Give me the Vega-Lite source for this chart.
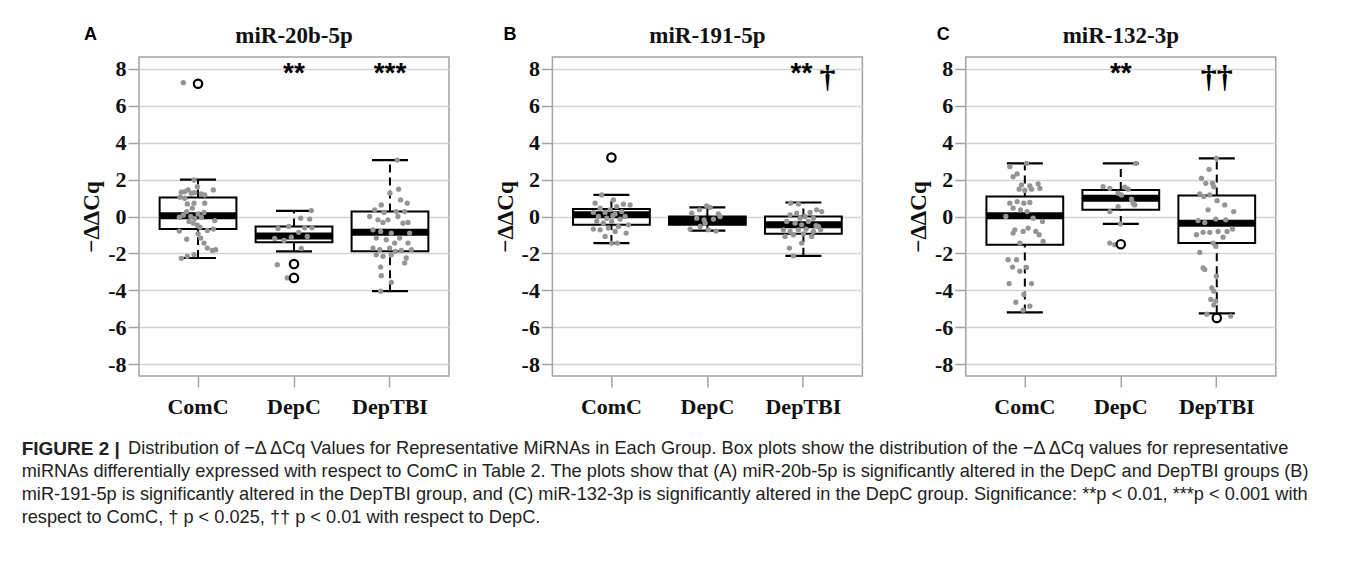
{
  "$schema": "https://vega.github.io/schema/vega-lite/v6.json",
  "padding": {"left": 21, "top": 24, "right": 5, "bottom": 5},
  "background": "white",
  "bounds": "flush",
  "columns": 3,
  "spacing": {"row": 50, "column": 103.4},
  "datasets": {
    "box": [
      {"p": "A", "g": "ComC", "q1": -0.68, "q3": 1.03, "med": 0.04, "lo": -2.25, "hi": 2.0},
      {"p": "A", "g": "DepC", "q1": -1.39, "q3": -0.54, "med": -1.06, "lo": -1.89, "hi": 0.31},
      {"p": "A", "g": "DepTBI", "q1": -1.89, "q3": 0.27, "med": -0.86, "lo": -4.05, "hi": 3.06},
      {"p": "B", "g": "ComC", "q1": -0.45, "q3": 0.4, "med": 0.09, "lo": -1.44, "hi": 1.17},
      {"p": "B", "g": "DepC", "q1": -0.45, "q3": 0.0, "med": -0.22, "lo": -0.77, "hi": 0.5},
      {"p": "B", "g": "DepTBI", "q1": -0.94, "q3": 0.0, "med": -0.45, "lo": -2.13, "hi": 0.76},
      {"p": "C", "g": "ComC", "q1": -1.53, "q3": 1.08, "med": 0.04, "lo": -5.2, "hi": 2.88},
      {"p": "C", "g": "DepC", "q1": 0.36, "q3": 1.44, "med": 0.99, "lo": -0.4, "hi": 2.88},
      {"p": "C", "g": "DepTBI", "q1": -1.44, "q3": 1.14, "med": -0.37, "lo": -5.25, "hi": 3.15}
    ],
    "out": [
      {"p": "A", "g": "ComC", "v": 7.2},
      {"p": "A", "g": "DepC", "v": -2.58},
      {"p": "A", "g": "DepC", "v": -3.33},
      {"p": "B", "g": "ComC", "v": 3.2},
      {"p": "C", "g": "DepC", "v": -1.5},
      {"p": "C", "g": "DepTBI", "v": -5.5}
    ],
    "sig": [
      {"p": "A", "g": "DepC", "t": "**"},
      {"p": "A", "g": "DepTBI", "t": "***"},
      {"p": "B", "g": "DepTBI", "t": "**"},
      {"p": "C", "g": "DepC", "t": "**"}
    ],
    "dag": [
      {"p": "B", "g": "DepTBI", "t": "†"},
      {"p": "C", "g": "DepTBI", "t": "††"}
    ],
    "names": [
      {"p": "A", "name": "miR-20b-5p", "letter": "A"},
      {"p": "B", "name": "miR-191-5p", "letter": "B"},
      {"p": "C", "name": "miR-132-3p", "letter": "C"}
    ],
    "cap": [
      {"line": 1, "seg": "b", "t": "FIGURE 2 |"},
      {"line": 1, "seg": "r1", "t": "Distribution of −Δ ΔCq Values for Representative MiRNAs in Each Group. Box plots show the distribution of the −Δ ΔCq values for representative"},
      {"line": 2, "seg": "r", "t": "miRNAs differentially expressed with respect to ComC in Table 2. The plots show that (A) miR-20b-5p is significantly altered in the DepC and DepTBI groups (B)"},
      {"line": 3, "seg": "r", "t": "miR-191-5p is significantly altered in the DepTBI group, and (C) miR-132-3p is significantly altered in the DepC group. Significance: **p < 0.01, ***p < 0.001 with"},
      {"line": 4, "seg": "r", "t": "respect to ComC, † p < 0.025, †† p < 0.01 with respect to DepC."}
    ],
    "pts": [
      {"p":"A","g":"ComC","dx":-14.7,"v":7.26},{"p":"A","g":"ComC","dx":-4,"v":1.98},{"p":"A","g":"ComC","dx":-0.7,"v":1.62},{"p":"A","g":"ComC","dx":-16.7,"v":1.32},{"p":"A","g":"ComC","dx":-13.3,"v":1.35},{"p":"A","g":"ComC","dx":-10,"v":1.44},{"p":"A","g":"ComC","dx":-6.7,"v":1.26},{"p":"A","g":"ComC","dx":-3.3,"v":1.3},{"p":"A","g":"ComC","dx":3.3,"v":1.23},{"p":"A","g":"ComC","dx":6.7,"v":1.17},{"p":"A","g":"ComC","dx":15.3,"v":1.44},{"p":"A","g":"ComC","dx":-18,"v":1.05},{"p":"A","g":"ComC","dx":-13.3,"v":0.99},{"p":"A","g":"ComC","dx":-4,"v":0.72},{"p":"A","g":"ComC","dx":-10.7,"v":0.68},{"p":"A","g":"ComC","dx":6.7,"v":0.72},{"p":"A","g":"ComC","dx":-5.7,"v":0.45},{"p":"A","g":"ComC","dx":-11.3,"v":0.27},{"p":"A","g":"ComC","dx":-18.7,"v":-0.04},{"p":"A","g":"ComC","dx":-14.7,"v":0.07},{"p":"A","g":"ComC","dx":-7.3,"v":0.0},{"p":"A","g":"ComC","dx":-3.3,"v":-0.11},{"p":"A","g":"ComC","dx":0,"v":0.14},{"p":"A","g":"ComC","dx":3.3,"v":-0.04},{"p":"A","g":"ComC","dx":6,"v":0.22},{"p":"A","g":"ComC","dx":16.7,"v":-0.22},{"p":"A","g":"ComC","dx":-9,"v":-0.27},{"p":"A","g":"ComC","dx":-4.7,"v":-0.36},{"p":"A","g":"ComC","dx":-0.7,"v":-0.47},{"p":"A","g":"ComC","dx":2,"v":-0.58},{"p":"A","g":"ComC","dx":15.3,"v":-0.68},{"p":"A","g":"ComC","dx":-18.7,"v":-0.79},{"p":"A","g":"ComC","dx":9.3,"v":-0.76},{"p":"A","g":"ComC","dx":0,"v":-0.94},{"p":"A","g":"ComC","dx":-11.3,"v":-1.23},{"p":"A","g":"ComC","dx":2.7,"v":-1.17},{"p":"A","g":"ComC","dx":6,"v":-1.44},{"p":"A","g":"ComC","dx":9.3,"v":-1.71},{"p":"A","g":"ComC","dx":14.3,"v":-1.84},{"p":"A","g":"ComC","dx":17.7,"v":-1.8},{"p":"A","g":"ComC","dx":-4,"v":-2.07},{"p":"A","g":"ComC","dx":-10.7,"v":-2.16},{"p":"A","g":"ComC","dx":-16.7,"v":-2.27},
      {"p":"A","g":"DepC","dx":17.3,"v":0.32},{"p":"A","g":"DepC","dx":6.7,"v":-0.09},{"p":"A","g":"DepC","dx":15.7,"v":-0.14},{"p":"A","g":"DepC","dx":-16,"v":-0.65},{"p":"A","g":"DepC","dx":-5.3,"v":-0.54},{"p":"A","g":"DepC","dx":10.7,"v":-0.61},{"p":"A","g":"DepC","dx":18,"v":-0.61},{"p":"A","g":"DepC","dx":-19.3,"v":-1.19},{"p":"A","g":"DepC","dx":-10,"v":-1.3},{"p":"A","g":"DepC","dx":-2.7,"v":-1.12},{"p":"A","g":"DepC","dx":4.7,"v":-0.86},{"p":"A","g":"DepC","dx":13.3,"v":-1.08},{"p":"A","g":"DepC","dx":7.3,"v":-1.73},{"p":"A","g":"DepC","dx":-16.7,"v":-2.61},{"p":"A","g":"DepC","dx":-6.7,"v":-3.33},
      {"p":"A","g":"DepTBI","dx":7.3,"v":3.06},{"p":"A","g":"DepTBI","dx":8.7,"v":1.48},{"p":"A","g":"DepTBI","dx":0,"v":1.26},{"p":"A","g":"DepTBI","dx":10.7,"v":0.9},{"p":"A","g":"DepTBI","dx":-8.7,"v":0.63},{"p":"A","g":"DepTBI","dx":-15.3,"v":0.36},{"p":"A","g":"DepTBI","dx":-6,"v":0.22},{"p":"A","g":"DepTBI","dx":6.3,"v":0.27},{"p":"A","g":"DepTBI","dx":14.7,"v":0.27},{"p":"A","g":"DepTBI","dx":-12,"v":-0.18},{"p":"A","g":"DepTBI","dx":-7,"v":-0.32},{"p":"A","g":"DepTBI","dx":-2,"v":-0.18},{"p":"A","g":"DepTBI","dx":8,"v":0},{"p":"A","g":"DepTBI","dx":13,"v":-0.36},{"p":"A","g":"DepTBI","dx":18,"v":-0.32},{"p":"A","g":"DepTBI","dx":-17,"v":-0.72},{"p":"A","g":"DepTBI","dx":-9.3,"v":-0.81},{"p":"A","g":"DepTBI","dx":1.3,"v":-0.9},{"p":"A","g":"DepTBI","dx":9.7,"v":-1.17},{"p":"A","g":"DepTBI","dx":-13.7,"v":-1.17},{"p":"A","g":"DepTBI","dx":-3.7,"v":-1.26},{"p":"A","g":"DepTBI","dx":4.7,"v":-1.44},{"p":"A","g":"DepTBI","dx":-17,"v":-1.71},{"p":"A","g":"DepTBI","dx":-10.3,"v":-1.8},{"p":"A","g":"DepTBI","dx":-0.3,"v":-1.71},{"p":"A","g":"DepTBI","dx":5.3,"v":-1.89},{"p":"A","g":"DepTBI","dx":11.3,"v":-1.84},{"p":"A","g":"DepTBI","dx":16.3,"v":-2.25},{"p":"A","g":"DepTBI","dx":-13.7,"v":-2.07},{"p":"A","g":"DepTBI","dx":-7,"v":-2.16},{"p":"A","g":"DepTBI","dx":1.3,"v":-2.07},{"p":"A","g":"DepTBI","dx":-9.3,"v":-2.74},{"p":"A","g":"DepTBI","dx":-8.7,"v":-3.21},{"p":"A","g":"DepTBI","dx":1.3,"v":-3.57},{"p":"A","g":"DepTBI","dx":-9.3,"v":-4.05},{"p":"A","g":"DepTBI","dx":17.3,"v":0.72},{"p":"A","g":"DepTBI","dx":-20.3,"v":0},{"p":"A","g":"DepTBI","dx":19.7,"v":-0.9},{"p":"A","g":"DepTBI","dx":18,"v":-1.44},{"p":"A","g":"DepTBI","dx":14.7,"v":-2.52},{"p":"A","g":"DepTBI","dx":21.3,"v":-1.8},
      {"p":"B","g":"ComC","dx":-9.7,"v":1.17},{"p":"B","g":"ComC","dx":2,"v":0.9},{"p":"B","g":"ComC","dx":-16.3,"v":0.72},{"p":"B","g":"ComC","dx":12,"v":0.67},{"p":"B","g":"ComC","dx":18.7,"v":0.63},{"p":"B","g":"ComC","dx":-11.3,"v":0.45},{"p":"B","g":"ComC","dx":-1.3,"v":0.36},{"p":"B","g":"ComC","dx":5.3,"v":0.54},{"p":"B","g":"ComC","dx":-18,"v":0.22},{"p":"B","g":"ComC","dx":-6.3,"v":0.22},{"p":"B","g":"ComC","dx":3.7,"v":0.14},{"p":"B","g":"ComC","dx":10.3,"v":0.27},{"p":"B","g":"ComC","dx":-13,"v":0},{"p":"B","g":"ComC","dx":-4.7,"v":-0.09},{"p":"B","g":"ComC","dx":1.3,"v":0.04},{"p":"B","g":"ComC","dx":8.7,"v":-0.14},{"p":"B","g":"ComC","dx":13.7,"v":0},{"p":"B","g":"ComC","dx":-14.7,"v":-0.27},{"p":"B","g":"ComC","dx":-8,"v":-0.36},{"p":"B","g":"ComC","dx":0.3,"v":-0.27},{"p":"B","g":"ComC","dx":7,"v":-0.54},{"p":"B","g":"ComC","dx":17,"v":-0.45},{"p":"B","g":"ComC","dx":-18,"v":-0.68},{"p":"B","g":"ComC","dx":-11.3,"v":-0.72},{"p":"B","g":"ComC","dx":-3,"v":-0.63},{"p":"B","g":"ComC","dx":3.7,"v":-0.81},{"p":"B","g":"ComC","dx":14.7,"v":-0.9},{"p":"B","g":"ComC","dx":0.3,"v":-1.44},{"p":"B","g":"ComC","dx":6,"v":-1.44},{"p":"B","g":"ComC","dx":-6.3,"v":-1.08},
      {"p":"B","g":"DepC","dx":-15.7,"v":0.18},{"p":"B","g":"DepC","dx":-8,"v":0.36},{"p":"B","g":"DepC","dx":-0.7,"v":0.58},{"p":"B","g":"DepC","dx":2.7,"v":0.5},{"p":"B","g":"DepC","dx":11,"v":0.14},{"p":"B","g":"DepC","dx":-10.7,"v":-0.09},{"p":"B","g":"DepC","dx":-3.3,"v":-0.18},{"p":"B","g":"DepC","dx":6,"v":-0.14},{"p":"B","g":"DepC","dx":12.7,"v":0},{"p":"B","g":"DepC","dx":-7.3,"v":-0.54},{"p":"B","g":"DepC","dx":-17.3,"v":-0.68},{"p":"B","g":"DepC","dx":1,"v":-0.72},{"p":"B","g":"DepC","dx":8.7,"v":-0.79},{"p":"B","g":"DepC","dx":-2.3,"v":-0.36},
      {"p":"B","g":"DepTBI","dx":-12.7,"v":0.72},{"p":"B","g":"DepTBI","dx":-5,"v":0.68},{"p":"B","g":"DepTBI","dx":6.7,"v":0.22},{"p":"B","g":"DepTBI","dx":13.3,"v":0.36},{"p":"B","g":"DepTBI","dx":18.3,"v":0.27},{"p":"B","g":"DepTBI","dx":-13.3,"v":0.09},{"p":"B","g":"DepTBI","dx":-6.7,"v":0.18},{"p":"B","g":"DepTBI","dx":1.7,"v":0},{"p":"B","g":"DepTBI","dx":10,"v":-0.09},{"p":"B","g":"DepTBI","dx":-16.7,"v":-0.27},{"p":"B","g":"DepTBI","dx":-8.3,"v":-0.36},{"p":"B","g":"DepTBI","dx":-1.7,"v":-0.45},{"p":"B","g":"DepTBI","dx":5,"v":-0.27},{"p":"B","g":"DepTBI","dx":15,"v":-0.54},{"p":"B","g":"DepTBI","dx":-20,"v":-0.72},{"p":"B","g":"DepTBI","dx":-13.3,"v":-0.81},{"p":"B","g":"DepTBI","dx":-5,"v":-0.72},{"p":"B","g":"DepTBI","dx":2.7,"v":-0.68},{"p":"B","g":"DepTBI","dx":10,"v":-0.81},{"p":"B","g":"DepTBI","dx":17.3,"v":-0.72},{"p":"B","g":"DepTBI","dx":-18.3,"v":-1.08},{"p":"B","g":"DepTBI","dx":-10,"v":-0.99},{"p":"B","g":"DepTBI","dx":0,"v":-0.94},{"p":"B","g":"DepTBI","dx":8.3,"v":-1.08},{"p":"B","g":"DepTBI","dx":-1.7,"v":-1.44},{"p":"B","g":"DepTBI","dx":-14,"v":-1.71},{"p":"B","g":"DepTBI","dx":-10,"v":-2.13},{"p":"B","g":"DepTBI","dx":12.7,"v":-0.5},{"p":"B","g":"DepTBI","dx":-3.3,"v":-0.09},
      {"p":"C","g":"ComC","dx":1.7,"v":2.88},{"p":"C","g":"ComC","dx":-15,"v":2.7},{"p":"C","g":"ComC","dx":-7.7,"v":2.31},{"p":"C","g":"ComC","dx":-11.7,"v":2.16},{"p":"C","g":"ComC","dx":-3.3,"v":1.71},{"p":"C","g":"ComC","dx":5,"v":1.66},{"p":"C","g":"ComC","dx":13.3,"v":1.77},{"p":"C","g":"ComC","dx":-5.7,"v":1.48},{"p":"C","g":"ComC","dx":0,"v":1.41},{"p":"C","g":"ComC","dx":6.7,"v":1.48},{"p":"C","g":"ComC","dx":15,"v":1.53},{"p":"C","g":"ComC","dx":-15,"v":0.72},{"p":"C","g":"ComC","dx":-7.7,"v":0.81},{"p":"C","g":"ComC","dx":-1,"v":0.72},{"p":"C","g":"ComC","dx":5,"v":0.76},{"p":"C","g":"ComC","dx":-11.7,"v":0.45},{"p":"C","g":"ComC","dx":-4.3,"v":0.36},{"p":"C","g":"ComC","dx":2.3,"v":0.27},{"p":"C","g":"ComC","dx":-19,"v":0},{"p":"C","g":"ComC","dx":8.3,"v":-0.09},{"p":"C","g":"ComC","dx":17.7,"v":-0.27},{"p":"C","g":"ComC","dx":-10,"v":-0.72},{"p":"C","g":"ComC","dx":-1.7,"v":-0.81},{"p":"C","g":"ComC","dx":3.3,"v":-0.63},{"p":"C","g":"ComC","dx":11,"v":-0.81},{"p":"C","g":"ComC","dx":-11.7,"v":-0.9},{"p":"C","g":"ComC","dx":14.3,"v":-0.99},{"p":"C","g":"ComC","dx":18.3,"v":-1.35},{"p":"C","g":"ComC","dx":-5,"v":-1.44},{"p":"C","g":"ComC","dx":-8.3,"v":-2.34},{"p":"C","g":"ComC","dx":-16.7,"v":-2.34},{"p":"C","g":"ComC","dx":-12.3,"v":-2.74},{"p":"C","g":"ComC","dx":-5,"v":-2.97},{"p":"C","g":"ComC","dx":1.7,"v":-2.76},{"p":"C","g":"ComC","dx":-15.7,"v":-3.64},{"p":"C","g":"ComC","dx":6.7,"v":-3.64},{"p":"C","g":"ComC","dx":-1,"v":-4.23},{"p":"C","g":"ComC","dx":-9,"v":-4.65},{"p":"C","g":"ComC","dx":-1.7,"v":-5.08},{"p":"C","g":"ComC","dx":5,"v":-4.86},
      {"p":"C","g":"DepC","dx":15,"v":2.88},{"p":"C","g":"DepC","dx":-17.7,"v":1.62},{"p":"C","g":"DepC","dx":-11,"v":1.53},{"p":"C","g":"DepC","dx":4,"v":1.59},{"p":"C","g":"DepC","dx":7.3,"v":1.48},{"p":"C","g":"DepC","dx":-2.7,"v":1.26},{"p":"C","g":"DepC","dx":0.7,"v":1.17},{"p":"C","g":"DepC","dx":10.7,"v":0.94},{"p":"C","g":"DepC","dx":14,"v":0.63},{"p":"C","g":"DepC","dx":12.3,"v":0.72},{"p":"C","g":"DepC","dx":-11,"v":0.27},{"p":"C","g":"DepC","dx":-2.7,"v":0.54},{"p":"C","g":"DepC","dx":-0.3,"v":-0.4},{"p":"C","g":"DepC","dx":-11,"v":-1.44},{"p":"C","g":"DepC","dx":-6,"v":-1.53},
      {"p":"C","g":"DepTBI","dx":-0.3,"v":3.15},{"p":"C","g":"DepTBI","dx":-7.7,"v":2.56},{"p":"C","g":"DepTBI","dx":-15.3,"v":2.07},{"p":"C","g":"DepTBI","dx":-11,"v":1.8},{"p":"C","g":"DepTBI","dx":-4.3,"v":1.8},{"p":"C","g":"DepTBI","dx":-3,"v":1.62},{"p":"C","g":"DepTBI","dx":-17,"v":1.23},{"p":"C","g":"DepTBI","dx":-13,"v":1.08},{"p":"C","g":"DepTBI","dx":-7,"v":1.17},{"p":"C","g":"DepTBI","dx":0.3,"v":0.86},{"p":"C","g":"DepTBI","dx":8,"v":0.63},{"p":"C","g":"DepTBI","dx":-8.7,"v":0.36},{"p":"C","g":"DepTBI","dx":17,"v":0.27},{"p":"C","g":"DepTBI","dx":-18.7,"v":-0.22},{"p":"C","g":"DepTBI","dx":-12,"v":-0.32},{"p":"C","g":"DepTBI","dx":-1,"v":-0.14},{"p":"C","g":"DepTBI","dx":9,"v":-0.18},{"p":"C","g":"DepTBI","dx":15.7,"v":-0.68},{"p":"C","g":"DepTBI","dx":-13.7,"v":-0.86},{"p":"C","g":"DepTBI","dx":-7,"v":-0.86},{"p":"C","g":"DepTBI","dx":1.3,"v":-0.81},{"p":"C","g":"DepTBI","dx":10.3,"v":-0.81},{"p":"C","g":"DepTBI","dx":-20.3,"v":-0.99},{"p":"C","g":"DepTBI","dx":6.3,"v":-1.12},{"p":"C","g":"DepTBI","dx":-3.7,"v":-1.44},{"p":"C","g":"DepTBI","dx":-1,"v":-1.62},{"p":"C","g":"DepTBI","dx":-17,"v":-1.95},{"p":"C","g":"DepTBI","dx":-13.7,"v":-2.79},{"p":"C","g":"DepTBI","dx":-12,"v":-2.88},{"p":"C","g":"DepTBI","dx":-0.3,"v":-3.24},{"p":"C","g":"DepTBI","dx":-5,"v":-3.87},{"p":"C","g":"DepTBI","dx":-3,"v":-4.05},{"p":"C","g":"DepTBI","dx":-1,"v":-4.59},{"p":"C","g":"DepTBI","dx":-3,"v":-4.8},{"p":"C","g":"DepTBI","dx":-10,"v":-5.3},{"p":"C","g":"DepTBI","dx":14,"v":-5.4},{"p":"C","g":"DepTBI","dx":-6,"v":-4.5}
    ]
  },
  "concat": [
    {
      "width": 310, "height": 319,
      "resolve": {"scale": {"xOffset": "independent"}},
      "layer": [
        {"data": {"name": "box"}, "transform": [{"filter": {"field": "p", "equal": "A"}}], "mark": {"type": "bar", "width": {"band": 0.8}, "fill": "white", "stroke": "black", "strokeWidth": 2}, "encoding": {"x": {"field": "g", "type": "nominal", "scale": {"domain": ["ComC", "DepC", "DepTBI"], "paddingInner": 0, "paddingOuter": 0.115}, "axis": {"orient": "bottom", "title": null, "labelAngle": 0}}, "y": {"field": "q1", "type": "quantitative", "scale": {"domain": [-8.65, 8.65], "nice": false, "zero": false}, "axis": {"orient": "left", "values": [-8, -6, -4, -2, 0, 2, 4, 6, 8], "tickCount": 9, "labelOverlap": false, "labelExpr": "replace(datum.label, '−', '-')", "title": "−ΔΔCq", "grid": true}}, "y2": {"field": "q3"}}},
        {"data": {"name": "box"}, "transform": [{"filter": {"field": "p", "equal": "A"}}], "mark": {"type": "rule", "strokeWidth": 2, "strokeDash": [8, 5], "color": "black"}, "encoding": {"x": {"field": "g", "type": "nominal"}, "y": {"field": "q3", "type": "quantitative"}, "y2": {"field": "hi"}}},
        {"data": {"name": "box"}, "transform": [{"filter": {"field": "p", "equal": "A"}}], "mark": {"type": "rule", "strokeWidth": 2, "strokeDash": [8, 5], "color": "black"}, "encoding": {"x": {"field": "g", "type": "nominal"}, "y": {"field": "lo", "type": "quantitative"}, "y2": {"field": "q1"}}},
        {"data": {"name": "box"}, "transform": [{"filter": {"field": "p", "equal": "A"}}], "mark": {"type": "tick", "size": 36, "thickness": 2.2, "color": "black", "opacity": 1}, "encoding": {"x": {"field": "g", "type": "nominal"}, "y": {"field": "hi", "type": "quantitative"}}},
        {"data": {"name": "box"}, "transform": [{"filter": {"field": "p", "equal": "A"}}], "mark": {"type": "tick", "size": 36, "thickness": 2.2, "color": "black", "opacity": 1}, "encoding": {"x": {"field": "g", "type": "nominal"}, "y": {"field": "lo", "type": "quantitative"}}},
        {"data": {"name": "box"}, "transform": [{"filter": {"field": "p", "equal": "A"}}], "mark": {"type": "tick", "size": 77, "thickness": 7, "color": "black", "opacity": 1}, "encoding": {"x": {"field": "g", "type": "nominal"}, "y": {"field": "med", "type": "quantitative"}}},
        {"data": {"name": "pts"}, "transform": [{"filter": {"field": "p", "equal": "A"}}], "mark": {"type": "circle", "size": 28, "color": "#959595", "opacity": 1}, "encoding": {"x": {"field": "g", "type": "nominal"}, "xOffset": {"field": "dx", "type": "quantitative", "scale": {"domain": [-48, 48]}}, "y": {"field": "v", "type": "quantitative"}}},
        {"data": {"name": "out"}, "transform": [{"filter": {"field": "p", "equal": "A"}}], "mark": {"type": "point", "shape": "circle", "filled": false, "size": 70, "stroke": "black", "strokeWidth": 2.2, "opacity": 1}, "encoding": {"x": {"field": "g", "type": "nominal"}, "y": {"field": "v", "type": "quantitative"}}},
        {"data": {"name": "sig"}, "transform": [{"filter": {"field": "p", "equal": "A"}}], "mark": {"type": "text", "font": "Liberation Sans", "fontWeight": "bold", "fontSize": 28, "baseline": "alphabetic", "color": "black"}, "encoding": {"x": {"field": "g", "type": "nominal"}, "y": {"datum": 7.3, "type": "quantitative"}, "text": {"field": "t"}}},
        {"data": {"name": "names"}, "transform": [{"filter": {"field": "p", "equal": "A"}}], "mark": {"type": "text", "font": "Liberation Serif", "fontWeight": "bold", "fontSize": 23, "baseline": "alphabetic", "color": "#111"}, "encoding": {"x": {"datum": "DepC", "type": "nominal"}, "y": {"datum": 9.39, "type": "quantitative"}, "text": {"field": "name"}}},
        {"data": {"name": "names"}, "transform": [{"filter": {"field": "p", "equal": "A"}}], "mark": {"type": "text", "font": "Liberation Sans", "fontWeight": "bold", "fontSize": 18, "baseline": "alphabetic", "align": "left", "dx": -114, "color": "#000"}, "encoding": {"x": {"datum": "ComC", "type": "nominal"}, "y": {"datum": 9.55, "type": "quantitative"}, "text": {"field": "letter"}}}
      ]
    },
    {
      "width": 310, "height": 319,
      "resolve": {"scale": {"xOffset": "independent"}},
      "layer": [
        {"data": {"name": "box"}, "transform": [{"filter": {"field": "p", "equal": "B"}}], "mark": {"type": "bar", "width": {"band": 0.8}, "fill": "white", "stroke": "black", "strokeWidth": 2}, "encoding": {"x": {"field": "g", "type": "nominal", "scale": {"domain": ["ComC", "DepC", "DepTBI"], "paddingInner": 0, "paddingOuter": 0.115}, "axis": {"orient": "bottom", "title": null, "labelAngle": 0}}, "y": {"field": "q1", "type": "quantitative", "scale": {"domain": [-8.65, 8.65], "nice": false, "zero": false}, "axis": {"orient": "left", "values": [-8, -6, -4, -2, 0, 2, 4, 6, 8], "tickCount": 9, "labelOverlap": false, "labelExpr": "replace(datum.label, '−', '-')", "title": "−ΔΔCq", "grid": true}}, "y2": {"field": "q3"}}},
        {"data": {"name": "box"}, "transform": [{"filter": {"field": "p", "equal": "B"}}], "mark": {"type": "rule", "strokeWidth": 2, "strokeDash": [8, 5], "color": "black"}, "encoding": {"x": {"field": "g", "type": "nominal"}, "y": {"field": "q3", "type": "quantitative"}, "y2": {"field": "hi"}}},
        {"data": {"name": "box"}, "transform": [{"filter": {"field": "p", "equal": "B"}}], "mark": {"type": "rule", "strokeWidth": 2, "strokeDash": [8, 5], "color": "black"}, "encoding": {"x": {"field": "g", "type": "nominal"}, "y": {"field": "lo", "type": "quantitative"}, "y2": {"field": "q1"}}},
        {"data": {"name": "box"}, "transform": [{"filter": {"field": "p", "equal": "B"}}], "mark": {"type": "tick", "size": 36, "thickness": 2.2, "color": "black", "opacity": 1}, "encoding": {"x": {"field": "g", "type": "nominal"}, "y": {"field": "hi", "type": "quantitative"}}},
        {"data": {"name": "box"}, "transform": [{"filter": {"field": "p", "equal": "B"}}], "mark": {"type": "tick", "size": 36, "thickness": 2.2, "color": "black", "opacity": 1}, "encoding": {"x": {"field": "g", "type": "nominal"}, "y": {"field": "lo", "type": "quantitative"}}},
        {"data": {"name": "box"}, "transform": [{"filter": {"field": "p", "equal": "B"}}], "mark": {"type": "tick", "size": 77, "thickness": 7, "color": "black", "opacity": 1}, "encoding": {"x": {"field": "g", "type": "nominal"}, "y": {"field": "med", "type": "quantitative"}}},
        {"data": {"name": "pts"}, "transform": [{"filter": {"field": "p", "equal": "B"}}], "mark": {"type": "circle", "size": 28, "color": "#959595", "opacity": 1}, "encoding": {"x": {"field": "g", "type": "nominal"}, "xOffset": {"field": "dx", "type": "quantitative", "scale": {"domain": [-48, 48]}}, "y": {"field": "v", "type": "quantitative"}}},
        {"data": {"name": "out"}, "transform": [{"filter": {"field": "p", "equal": "B"}}], "mark": {"type": "point", "shape": "circle", "filled": false, "size": 70, "stroke": "black", "strokeWidth": 2.2, "opacity": 1}, "encoding": {"x": {"field": "g", "type": "nominal"}, "y": {"field": "v", "type": "quantitative"}}},
        {"data": {"name": "sig"}, "transform": [{"filter": {"field": "p", "equal": "B"}}], "mark": {"type": "text", "font": "Liberation Sans", "fontWeight": "bold", "fontSize": 28, "baseline": "alphabetic", "color": "black", "dx": -2}, "encoding": {"x": {"field": "g", "type": "nominal"}, "y": {"datum": 7.3, "type": "quantitative"}, "text": {"field": "t"}}},
        {"data": {"name": "dag"}, "transform": [{"filter": {"field": "p", "equal": "B"}}], "mark": {"type": "text", "font": "Liberation Serif", "fontWeight": "bold", "fontSize": 32, "baseline": "alphabetic", "color": "black", "dx": 24}, "encoding": {"x": {"field": "g", "type": "nominal"}, "y": {"datum": 7.0, "type": "quantitative"}, "text": {"field": "t"}}},
        {"data": {"name": "names"}, "transform": [{"filter": {"field": "p", "equal": "B"}}], "mark": {"type": "text", "font": "Liberation Serif", "fontWeight": "bold", "fontSize": 23, "baseline": "alphabetic", "color": "#111"}, "encoding": {"x": {"datum": "DepC", "type": "nominal"}, "y": {"datum": 9.39, "type": "quantitative"}, "text": {"field": "name"}}},
        {"data": {"name": "names"}, "transform": [{"filter": {"field": "p", "equal": "B"}}], "mark": {"type": "text", "font": "Liberation Sans", "fontWeight": "bold", "fontSize": 18, "baseline": "alphabetic", "align": "left", "dx": -108, "color": "#000"}, "encoding": {"x": {"datum": "ComC", "type": "nominal"}, "y": {"datum": 9.55, "type": "quantitative"}, "text": {"field": "letter"}}}
      ]
    },
    {
      "width": 310, "height": 319,
      "resolve": {"scale": {"xOffset": "independent"}},
      "layer": [
        {"data": {"name": "box"}, "transform": [{"filter": {"field": "p", "equal": "C"}}], "mark": {"type": "bar", "width": {"band": 0.8}, "fill": "white", "stroke": "black", "strokeWidth": 2}, "encoding": {"x": {"field": "g", "type": "nominal", "scale": {"domain": ["ComC", "DepC", "DepTBI"], "paddingInner": 0, "paddingOuter": 0.115}, "axis": {"orient": "bottom", "title": null, "labelAngle": 0}}, "y": {"field": "q1", "type": "quantitative", "scale": {"domain": [-8.65, 8.65], "nice": false, "zero": false}, "axis": {"orient": "left", "values": [-8, -6, -4, -2, 0, 2, 4, 6, 8], "tickCount": 9, "labelOverlap": false, "labelExpr": "replace(datum.label, '−', '-')", "title": "−ΔΔCq", "grid": true}}, "y2": {"field": "q3"}}},
        {"data": {"name": "box"}, "transform": [{"filter": {"field": "p", "equal": "C"}}], "mark": {"type": "rule", "strokeWidth": 2, "strokeDash": [8, 5], "color": "black"}, "encoding": {"x": {"field": "g", "type": "nominal"}, "y": {"field": "q3", "type": "quantitative"}, "y2": {"field": "hi"}}},
        {"data": {"name": "box"}, "transform": [{"filter": {"field": "p", "equal": "C"}}], "mark": {"type": "rule", "strokeWidth": 2, "strokeDash": [8, 5], "color": "black"}, "encoding": {"x": {"field": "g", "type": "nominal"}, "y": {"field": "lo", "type": "quantitative"}, "y2": {"field": "q1"}}},
        {"data": {"name": "box"}, "transform": [{"filter": {"field": "p", "equal": "C"}}], "mark": {"type": "tick", "size": 36, "thickness": 2.2, "color": "black", "opacity": 1}, "encoding": {"x": {"field": "g", "type": "nominal"}, "y": {"field": "hi", "type": "quantitative"}}},
        {"data": {"name": "box"}, "transform": [{"filter": {"field": "p", "equal": "C"}}], "mark": {"type": "tick", "size": 36, "thickness": 2.2, "color": "black", "opacity": 1}, "encoding": {"x": {"field": "g", "type": "nominal"}, "y": {"field": "lo", "type": "quantitative"}}},
        {"data": {"name": "box"}, "transform": [{"filter": {"field": "p", "equal": "C"}}], "mark": {"type": "tick", "size": 77, "thickness": 7, "color": "black", "opacity": 1}, "encoding": {"x": {"field": "g", "type": "nominal"}, "y": {"field": "med", "type": "quantitative"}}},
        {"data": {"name": "pts"}, "transform": [{"filter": {"field": "p", "equal": "C"}}], "mark": {"type": "circle", "size": 28, "color": "#959595", "opacity": 1}, "encoding": {"x": {"field": "g", "type": "nominal"}, "xOffset": {"field": "dx", "type": "quantitative", "scale": {"domain": [-48, 48]}}, "y": {"field": "v", "type": "quantitative"}}},
        {"data": {"name": "out"}, "transform": [{"filter": {"field": "p", "equal": "C"}}], "mark": {"type": "point", "shape": "circle", "filled": false, "size": 70, "stroke": "black", "strokeWidth": 2.2, "opacity": 1}, "encoding": {"x": {"field": "g", "type": "nominal"}, "y": {"field": "v", "type": "quantitative"}}},
        {"data": {"name": "sig"}, "transform": [{"filter": {"field": "p", "equal": "C"}}], "mark": {"type": "text", "font": "Liberation Sans", "fontWeight": "bold", "fontSize": 28, "baseline": "alphabetic", "color": "black"}, "encoding": {"x": {"field": "g", "type": "nominal"}, "y": {"datum": 7.3, "type": "quantitative"}, "text": {"field": "t"}}},
        {"data": {"name": "dag"}, "transform": [{"filter": {"field": "p", "equal": "C"}}], "mark": {"type": "text", "font": "Liberation Serif", "fontWeight": "bold", "fontSize": 32, "baseline": "alphabetic", "color": "black"}, "encoding": {"x": {"field": "g", "type": "nominal"}, "y": {"datum": 7.0, "type": "quantitative"}, "text": {"field": "t"}}},
        {"data": {"name": "names"}, "transform": [{"filter": {"field": "p", "equal": "C"}}], "mark": {"type": "text", "font": "Liberation Serif", "fontWeight": "bold", "fontSize": 23, "baseline": "alphabetic", "color": "#111"}, "encoding": {"x": {"datum": "DepC", "type": "nominal"}, "y": {"datum": 9.39, "type": "quantitative"}, "text": {"field": "name"}}},
        {"data": {"name": "names"}, "transform": [{"filter": {"field": "p", "equal": "C"}}], "mark": {"type": "text", "font": "Liberation Sans", "fontWeight": "bold", "fontSize": 18, "baseline": "alphabetic", "align": "left", "dx": -88, "color": "#000"}, "encoding": {"x": {"datum": "ComC", "type": "nominal"}, "y": {"datum": 9.55, "type": "quantitative"}, "text": {"field": "letter"}}}
      ]
    },
    {
      "width": 310, "height": 115,
      "view": {"stroke": null},
      "data": {"name": "cap"},
      "encoding": {
        "x": {"datum": 0, "type": "quantitative", "scale": {"domain": [0, 1]}, "axis": null},
        "y": {"field": "line", "type": "quantitative", "scale": {"domain": [0, 5], "reverse": true}, "axis": null},
        "text": {"field": "t"}
      },
      "layer": [
        {"transform": [{"filter": {"field": "seg", "equal": "r"}}], "mark": {"type": "text", "align": "left", "baseline": "middle", "font": "Liberation Sans", "fontSize": 18.2, "color": "#222", "dx": -117.3}},
        {"transform": [{"filter": {"field": "seg", "equal": "b"}}], "mark": {"type": "text", "align": "left", "baseline": "middle", "font": "Liberation Sans", "fontWeight": "bold", "fontSize": 19, "color": "#222", "dx": -117.3}},
        {"transform": [{"filter": {"field": "seg", "equal": "r1"}}], "mark": {"type": "text", "align": "left", "baseline": "middle", "font": "Liberation Sans", "fontSize": 18.2, "color": "#222", "dx": -11}}
      ]
    }
  ],
  "config": {
    "view": {"stroke": "#a3a3a3", "strokeWidth": 1.5},
    "axis": {"labelFont": "Liberation Serif", "labelFontWeight": "bold", "labelFontSize": 22, "labelColor": "#111", "tickColor": "#a3a3a3", "tickSize": 11, "tickWidth": 1.5, "domain": false, "titleFont": "Liberation Serif", "titleFontWeight": "bold", "titleFontSize": 23, "titleColor": "#111", "gridColor": "#d4d4d4", "gridWidth": 1.5, "labelPadding": 2, "labelOverlap": false},
    "axisY": {"titlePadding": 4, "tickCount": 9},
    "axisX": {"labelPadding": 9}
  }
}
